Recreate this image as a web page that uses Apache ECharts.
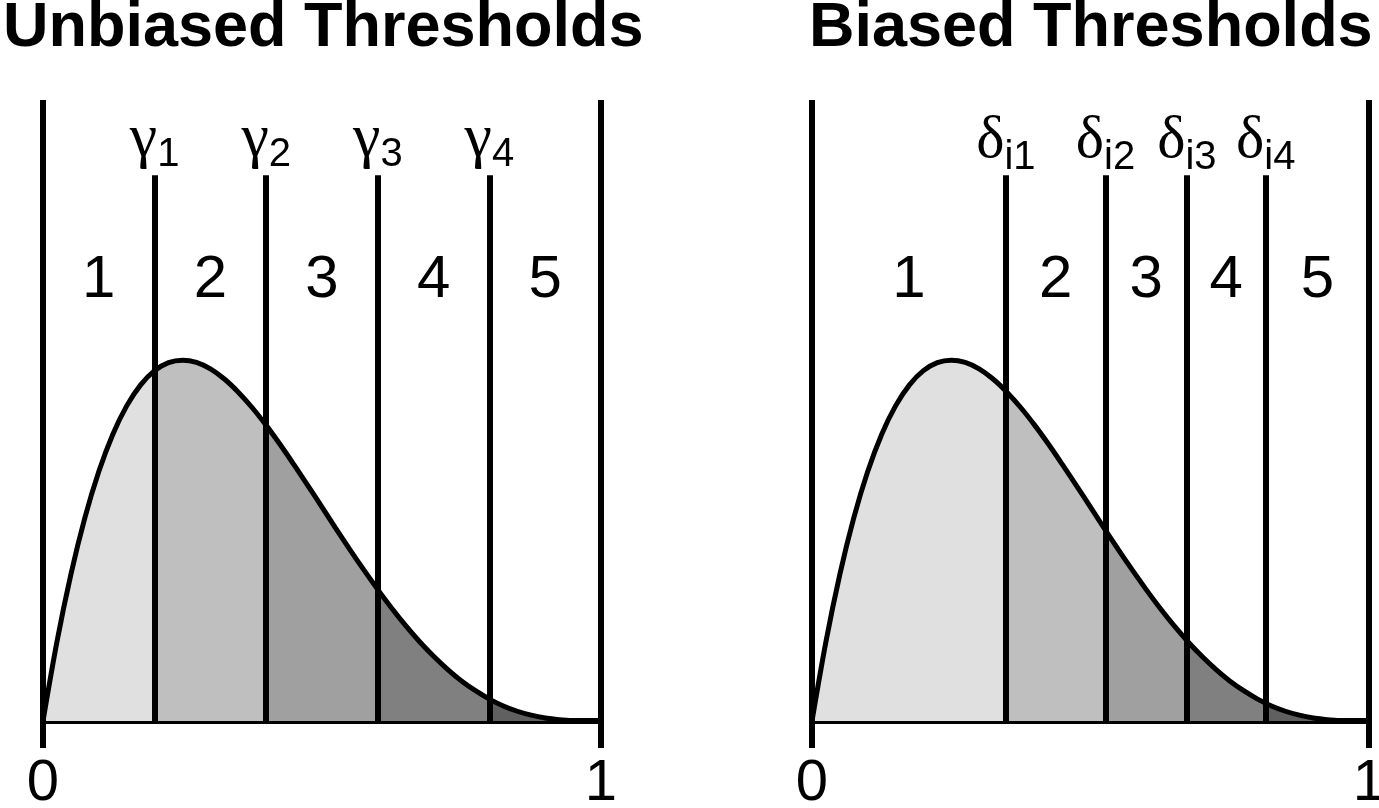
<!DOCTYPE html>
<html>
<head>
<meta charset="utf-8">
<script src="https://cdn.jsdelivr.net/npm/echarts@6/dist/echarts.min.js"></script>
<style>
  html, body { margin: 0; padding: 0; background: #fff; }
  #chart { width: 1379px; height: 808px; }
</style>
</head>
<body>
<div id="chart"></div>
<script>
// latent score positions and the density (same curve in both panels)
var xs = [0, 0.025, 0.05, 0.075, 0.1, 0.125, 0.15, 0.175, 0.2, 0.225, 0.25, 0.275, 0.3, 0.325, 0.35,
          0.375, 0.4, 0.425, 0.45, 0.475, 0.5, 0.525, 0.55, 0.575, 0.6, 0.625, 0.65, 0.675, 0.7,
          0.725, 0.75, 0.775, 0.8, 0.825, 0.85, 0.875, 0.9, 0.925, 0.95, 0.975, 1];
var density = [0, 0.463, 0.857, 1.187, 1.458, 1.675, 1.842, 1.965, 2.048, 2.095, 2.109, 2.096, 2.058,
               1.999, 1.922, 1.831, 1.728, 1.616, 1.497, 1.375, 1.25, 1.125, 1.002, 0.883, 0.768,
               0.659, 0.557, 0.463, 0.378, 0.302, 0.234, 0.177, 0.128, 0.088, 0.057, 0.034, 0.018,
               0.008, 0.002, 0.0003, 0];

// threshold positions
var unbiasedCuts = [0.2, 0.4, 0.6, 0.8];
var biasedCuts = [0.348, 0.527, 0.673, 0.8145];

// threshold names (symbol + subscript) and category names
var unbiasedSymbol = 'γ';
var unbiasedSubs = ['1', '2', '3', '4'];
var biasedSymbol = 'δ';
var biasedSubs = ['i1', 'i2', 'i3', 'i4'];
var categories = ['1', '2', '3', '4', '5'];
var titles = ['Unbiased Thresholds', 'Biased Thresholds'];
var xTicks = [0, 1];

var shades = ['#e0e0e0', '#bfbfbf', '#a0a0a0', '#808080', '#606060'];

var yMax = 3.63;      // top of the frame lines
var cutTop = 3.19;    // top of the threshold lines
var numY = 2.578;     // height of the category numbers

var myChart = echarts.init(document.getElementById('chart'));

var curve = xs.map(function (x, i) { return [x, density[i]]; });

function pieces(cuts) {
  var out = [];
  for (var i = 0; i <= cuts.length; i++) {
    var p = { color: shades[i] };
    if (i > 0) p.gte = cuts[i - 1];
    if (i < cuts.length) p.lt = cuts[i];
    out.push(p);
  }
  return out;
}

function mids(cuts) {
  var b = [0].concat(cuts).concat([1]);
  var out = [];
  for (var i = 0; i < b.length - 1; i++) out.push((b[i] + b[i + 1]) / 2);
  return out;
}

var lineStyle = { color: '#000', width: 6, type: 'solid' };
var serif = 'Liberation Serif, DejaVu Serif, serif';

function panelSeries(k, cuts, sym, subs, richStyle, labelGap) {
  var frame = [
    [{ coord: [0, 0] }, { coord: [0, yMax] }],
    [{ coord: [1, 0] }, { coord: [1, yMax] }]
  ];
  cuts.forEach(function (c) {
    frame.push([{ coord: [c, 0] }, { coord: [c, cutTop] }]);
  });
  return [
    {
      type: 'line', xAxisIndex: k, yAxisIndex: k, data: curve, smooth: 0.3,
      showSymbol: false, lineStyle: { width: 0 }, areaStyle: { opacity: 1 }, silent: true, z: 1
    },
    {
      type: 'line', xAxisIndex: k, yAxisIndex: k, data: curve, smooth: 0.3,
      showSymbol: false, lineStyle: { color: '#000', width: 5 }, silent: true, z: 3,
      markLine: {
        silent: true, symbol: 'none', lineStyle: lineStyle,
        label: { show: false }, data: frame
      }
    },
    {
      type: 'scatter', xAxisIndex: k, yAxisIndex: k, symbolSize: 1,
      itemStyle: { color: 'rgba(0,0,0,0)', opacity: 1 }, silent: true, z: 4,
      data: cuts.map(function (c, i) { return { value: [c, cutTop], sub: subs[i] }; }),
      label: {
        show: true, position: 'top', distance: labelGap, color: '#000',
        formatter: function (p) { return '{g|' + sym + '}{s|' + p.data.sub + '}'; },
        rich: richStyle
      }
    },
    {
      type: 'scatter', xAxisIndex: k, yAxisIndex: k, symbolSize: 1,
      itemStyle: { color: 'rgba(0,0,0,0)', opacity: 1 }, silent: true, z: 4,
      data: mids(cuts).map(function (m, i) { return { value: [m, numY], name: categories[i] }; }),
      label: {
        show: true, position: 'inside', formatter: '{b}',
        fontFamily: 'Liberation Sans', fontSize: 60, color: '#000'
      }
    }
  ];
}

var gammaRich = {
  g: { fontFamily: serif, fontSize: 62, color: '#000', lineHeight: 70 },
  s: { fontFamily: 'Liberation Sans', fontSize: 40, color: '#000', verticalAlign: 'bottom', lineHeight: 40 }
};
var deltaRich = {
  g: { fontFamily: serif, fontSize: 60, color: '#000', lineHeight: 74 },
  s: { fontFamily: 'Liberation Sans', fontSize: 40, color: '#000', verticalAlign: 'bottom', lineHeight: 30 }
};

function xAxis(k) {
  return {
    type: 'value', gridIndex: k, min: 0, max: 1, interval: 1,
    axisLine: { show: true, lineStyle: { color: '#000', width: 6 } },
    axisTick: { show: true, length: 27, lineStyle: { color: '#000', width: 6 } },
    axisLabel: {
      color: '#000', fontFamily: 'Liberation Sans', fontSize: 58, margin: 34,
      formatter: function (v) { return xTicks.indexOf(v) >= 0 ? String(v) : ''; }
    },
    splitLine: { show: false }
  };
}
function yAxis(k) {
  return { type: 'value', gridIndex: k, min: 0, max: yMax, show: false };
}

var titleStyle = { fontFamily: 'Liberation Sans', fontWeight: 'bold', fontSize: 63, color: '#000' };

var option = {
  animation: false,
  backgroundColor: '#fff',
  title: [
    { text: titles[0], left: -2, top: -8, textStyle: titleStyle },
    { text: titles[1], left: 804, top: -8, textStyle: titleStyle }
  ],
  grid: [
    { left: 43, width: 558, top: 100, bottom: 87, outerBoundsMode: 'none' },
    { left: 812, width: 557, top: 100, bottom: 87, outerBoundsMode: 'none' }
  ],
  xAxis: [xAxis(0), xAxis(1)],
  yAxis: [yAxis(0), yAxis(1)],
  visualMap: [
    { type: 'piecewise', show: false, dimension: 0, seriesIndex: 0, pieces: pieces(unbiasedCuts) },
    { type: 'piecewise', show: false, dimension: 0, seriesIndex: 4, pieces: pieces(biasedCuts) }
  ],
  series: panelSeries(0, unbiasedCuts, unbiasedSymbol, unbiasedSubs, gammaRich, 0)
    .concat(panelSeries(1, biasedCuts, biasedSymbol, biasedSubs, deltaRich, -3))
};

myChart.setOption(option);
</script>
</body>
</html>
